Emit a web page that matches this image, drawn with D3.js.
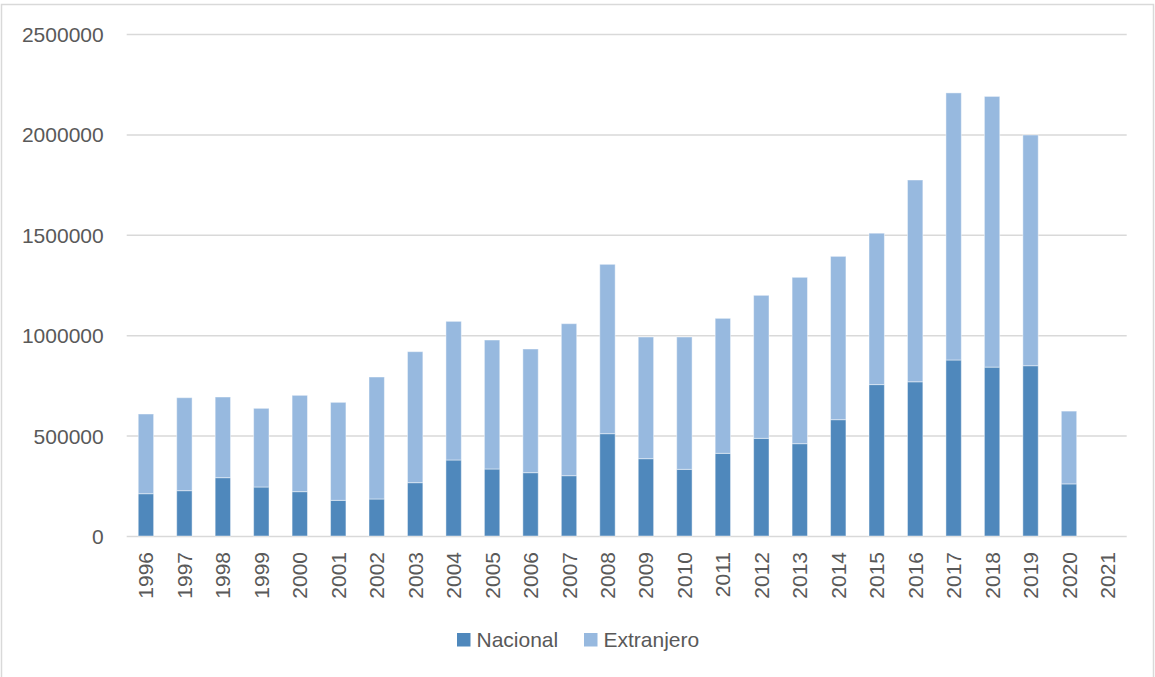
<!DOCTYPE html>
<html lang="es">
<head>
  <meta charset="utf-8">
  <title>Nacional / Extranjero</title>
  <script src="https://cdn.jsdelivr.net/npm/d3@7/dist/d3.min.js"></script>
  <style type="text/css">
    body { margin: 0; background: #fff; }
    text { font-family: "Liberation Sans", Arial, sans-serif; fill: #595959; }
  </style>
</head>
<body>
  <script type="text/javascript">

    var width = 1155;
    var height = 677;

    // datos
    var years = ["1996","1997","1998","1999","2000","2001","2002","2003","2004","2005",
                 "2006","2007","2008","2009","2010","2011","2012","2013","2014","2015",
                 "2016","2017","2018","2019","2020","2021"];
    var nacional = [210700, 225700, 290500, 244000, 220800, 177600, 184300, 265600, 378500, 333700,
                    315400, 300400, 509600, 385100, 332000, 411700, 486400, 459800, 579300, 754000,
                    768000, 876500, 841100, 848100, 259500, 0];
    var totales = [607600, 688800, 692200, 635800, 700600, 665700, 791800, 918000, 1069000, 976000,
                   931300, 1057400, 1353000, 991000, 991000, 1084000, 1198600, 1288300, 1392700, 1508000,
                   1772900, 2206700, 2189200, 1997000, 622000, 0];
    var extranjero = totales.map(function(t, i){ return t - nacional[i]; });
    var yTicks = [0, 500000, 1000000, 1500000, 2000000, 2500000];
    var seriesNames = ["Nacional", "Extranjero"];
    var colors = ["#4f88bc", "#97b9df"];

    var svg = d3.select("body")
            .append("svg")
            .attr("width", width)
            .attr("height", height);

    // marco del grafico
    svg.append("rect")
        .attr("x", 1.5).attr("y", 4.5)
        .attr("width", 1152).attr("height", 690)
        .attr("fill", "none")
        .attr("stroke", "#d9d9d9")
        .attr("stroke-width", 1.5);

    var xScale = d3.scaleBand()
        .domain(years)
        .range([126.7, 1126.7])
        .paddingInner(0.6)
        .paddingOuter(0.3);

    var yScale = d3.scaleLinear()
        .domain([0, 2500000])
        .range([536, 34]);

    // lineas de cuadricula + etiquetas eje y
    var yAxis = d3.axisLeft(yScale)
        .tickValues(yTicks)
        .tickSize(-(1126.7 - 126.7))
        .tickPadding(23)
        .tickFormat(d3.format("d"));

    var gy = svg.append("g")
        .attr("transform", "translate(126.7,0)")
        .call(yAxis);
    gy.select(".domain").remove();
    gy.selectAll("line").attr("stroke", "#d9d9d9").attr("stroke-width", 1.5);
    gy.selectAll("text")
        .style("font-size", "21px")
        .attr("fill", "#595959")
        .attr("dy", "0.36em");

    // datos apilados
    var table = years.map(function(y, i){
        return { year: y, Nacional: nacional[i], Extranjero: extranjero[i] };
    });
    var stack = d3.stack().keys(seriesNames)(table);

    svg.selectAll(".serie")
        .data(stack)
        .enter()
        .append("g")
        .attr("class", "serie")
        .attr("fill", function(d, i){ return colors[i]; })
        .selectAll("rect")
        .data(function(d){ return d; })
        .enter()
        .append("rect")
        .attr("x", function(d){ return xScale(d.data.year); })
        .attr("width", xScale.bandwidth())
        .attr("y", function(d){ return yScale(d[1]); })
        .attr("height", function(d){ return yScale(d[0]) - yScale(d[1]); })
        .attr("stroke", "rgba(255,255,255,0.45)")
        .attr("stroke-width", 1);

    // eje x con anos rotados
    var xAxis = d3.axisBottom(xScale).tickSize(0).tickPadding(0);
    var gx = svg.append("g")
        .attr("transform", "translate(0,536)")
        .call(xAxis);
    gx.select(".domain").remove();
    gx.selectAll("text")
        .style("font-size", "21px")
        .attr("fill", "#595959")
        .attr("text-anchor", "end")
        .attr("transform", "rotate(-90)")
        .attr("x", -16)
        .attr("y", 0)
        .attr("dy", "0.36em");

    // leyenda
    var legendX = [457, 584];
    var legend = svg.selectAll(".leyenda")
        .data(seriesNames)
        .enter()
        .append("g")
        .attr("class", "leyenda")
        .attr("transform", function(d, i){ return "translate(" + legendX[i] + ",633)"; });
    legend.append("rect")
        .attr("width", 13.5).attr("height", 13.5)
        .attr("fill", function(d, i){ return colors[i]; });
    legend.append("text")
        .attr("x", 19.5)
        .attr("y", 14)
        .style("font-size", "21px")
        .text(function(d){ return d; });

  </script>
</body>
</html>
